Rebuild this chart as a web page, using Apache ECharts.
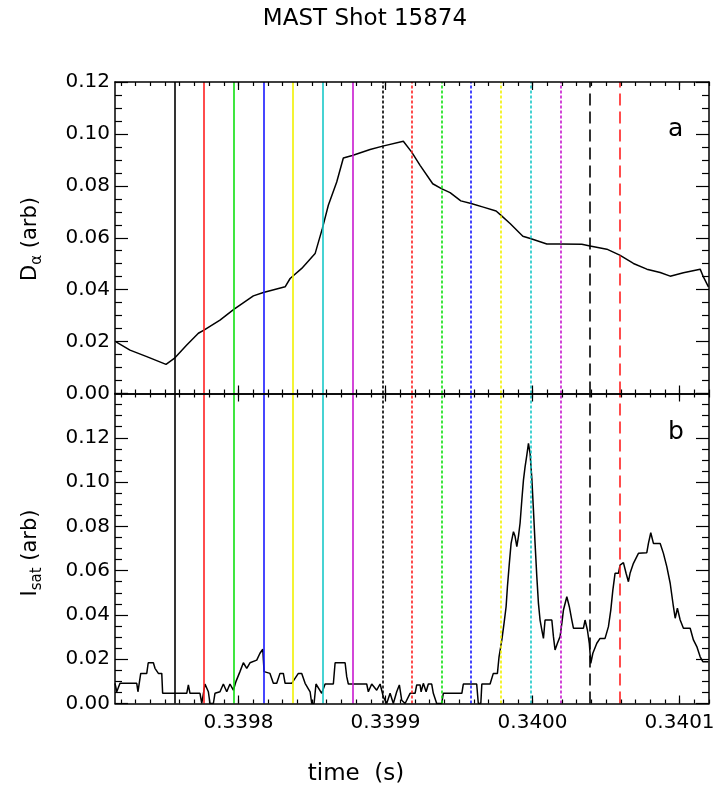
<!DOCTYPE html>
<html><head><meta charset="utf-8">
<script src="https://cdn.jsdelivr.net/npm/echarts@6/dist/echarts.min.js"></script>
<style>html,body{margin:0;padding:0;background:#fff}#c{width:719px;height:795px}</style>
</head><body><div id="c"></div>
<script>
// ---- axis ranges & tick labels ----
const xMin = 0.339716, xMax = 0.340120;
const xMinorStart = 0.33972, xMinorStep = 0.00001;
const xMajorStart = 0.3398, xMajorEnd = 0.3401, xMajorStep = 0.0001;
const dalphaMax = 0.12, isatMax = 0.14, yStep = 0.02;

// ---- panel a : D-alpha ----
const dalphaTime = [0.3397167,0.3397262,0.3397376,0.3397507,0.3397563,0.3397648,0.3397727,0.3397765,0.3397874,0.3397968,
0.3398101,0.3398169,0.3398317,0.3398351,0.3398430,0.3398521,0.3398570,0.3398611,0.3398668,0.3398713,
0.3398774,0.3398895,0.3398981,0.3399121,0.3399133,0.3399178,0.3399235,0.3399321,0.3399380,0.3399439,
0.3399512,0.3399582,0.3399665,0.3399752,0.3399784,0.3399847,0.3399934,0.3399985,0.3400097,0.3400189,
0.3400335,0.3400391,0.3400505,0.3400593,0.3400686,0.3400777,0.3400868,0.3400936,0.3401026,0.3401140,
0.3401162,0.3401196];
const dalphaValue = [0.0199,0.0167,0.0142,0.0112,0.0135,0.0187,0.0232,0.0244,0.0283,0.0324,
0.0376,0.0389,0.0411,0.0443,0.0482,0.0539,0.0635,0.0725,0.0815,0.0907,
0.0917,0.0940,0.0953,0.0972,0.0969,0.0930,0.0879,0.0808,0.0789,0.0774,
0.0742,0.0732,0.0718,0.0703,0.0687,0.0655,0.0606,0.0597,0.0576,0.0576,
0.0575,0.0568,0.0556,0.0533,0.0501,0.0479,0.0466,0.0452,0.0465,0.0479,
0.0449,0.0411];

// ---- panel b : I_sat ----
const isatTime = [0.3397160,0.3397172,0.3397194,0.3397308,0.3397316,0.3397335,0.3397376,0.3397386,0.3397421,0.3397432,
0.3397455,0.3397478,0.3397484,0.3397648,0.3397659,0.3397670,0.3397738,0.3397750,0.3397772,0.3397795,
0.3397806,0.3397829,0.3397840,0.3397874,0.3397897,0.3397920,0.3397942,0.3397965,0.3397983,0.3398010,
0.3398033,0.3398056,0.3398078,0.3398124,0.3398146,0.3398165,0.3398174,0.3398214,0.3398237,0.3398260,
0.3398282,0.3398305,0.3398317,0.3398362,0.3398407,0.3398430,0.3398453,0.3398487,0.3398498,0.3398514,
0.3398527,0.3398566,0.3398589,0.3398645,0.3398657,0.3398725,0.3398736,0.3398747,0.3398872,0.3398883,
0.3398906,0.3398940,0.3398963,0.3398985,0.3399008,0.3399031,0.3399053,0.3399076,0.3399094,0.3399110,
0.3399133,0.3399167,0.3399201,0.3399212,0.3399235,0.3399242,0.3399257,0.3399276,0.3399291,0.3399314,
0.3399325,0.3399348,0.3399382,0.3399393,0.3399519,0.3399529,0.3399620,0.3399631,0.3399648,0.3399655,
0.3399711,0.3399733,0.3399761,0.3399772,0.3399791,0.3399806,0.3399820,0.3399829,0.3399842,0.3399854,
0.3399870,0.3399881,0.3399893,0.3399904,0.3399915,0.3399927,0.3399938,0.3399949,0.3399961,0.3399972,
0.3399983,0.3399995,0.3400006,0.3400017,0.3400029,0.3400040,0.3400051,0.3400063,0.3400074,0.3400085,
0.3400131,0.3400142,0.3400153,0.3400169,0.3400187,0.3400199,0.3400210,0.3400233,0.3400250,0.3400267,
0.3400278,0.3400346,0.3400357,0.3400373,0.3400386,0.3400396,0.3400410,0.3400437,0.3400459,0.3400493,
0.3400516,0.3400532,0.3400546,0.3400561,0.3400584,0.3400595,0.3400618,0.3400636,0.3400652,0.3400663,
0.3400686,0.3400720,0.3400777,0.3400788,0.3400804,0.3400822,0.3400868,0.3400890,0.3400913,0.3400936,
0.3400958,0.3400970,0.3400985,0.3401004,0.3401026,0.3401072,0.3401094,0.3401117,0.3401140,0.3401158,
0.3401196];
const isatValue = [0.0091,0.0053,0.0091,0.0091,0.0053,0.0136,0.0136,0.0184,0.0184,0.0159,
0.0136,0.0136,0.0046,0.0046,0.0084,0.0046,0.0046,0.0001,0.0088,0.0053,
0.0000,0.0000,0.0046,0.0053,0.0088,0.0053,0.0088,0.0060,0.0100,0.0144,
0.0184,0.0159,0.0184,0.0196,0.0227,0.0245,0.0144,0.0136,0.0091,0.0091,
0.0136,0.0136,0.0091,0.0091,0.0136,0.0136,0.0091,0.0053,0.0000,0.0000,
0.0088,0.0046,0.0088,0.0088,0.0184,0.0184,0.0121,0.0088,0.0088,0.0053,
0.0088,0.0060,0.0088,0.0030,0.0000,0.0046,0.0000,0.0053,0.0084,0.0015,
0.0000,0.0046,0.0046,0.0084,0.0084,0.0053,0.0091,0.0053,0.0088,0.0088,
0.0046,0.0000,0.0000,0.0046,0.0046,0.0088,0.0088,0.0000,0.0000,0.0088,
0.0088,0.0136,0.0136,0.0211,0.0287,0.0362,0.0437,0.0527,0.0633,0.0723,
0.0776,0.0755,0.0708,0.0755,0.0814,0.0919,0.1009,0.1069,0.1122,0.1175,
0.1130,0.1017,0.0874,0.0723,0.0572,0.0452,0.0377,0.0332,0.0294,0.0377,
0.0377,0.0302,0.0242,0.0272,0.0302,0.0362,0.0422,0.0482,0.0437,0.0377,
0.0340,0.0340,0.0377,0.0332,0.0272,0.0181,0.0227,0.0272,0.0294,0.0294,
0.0347,0.0422,0.0512,0.0588,0.0588,0.0625,0.0636,0.0588,0.0550,0.0588,
0.0633,0.0678,0.0681,0.0723,0.0771,0.0723,0.0723,0.0678,0.0618,0.0543,
0.0437,0.0385,0.0430,0.0377,0.0340,0.0340,0.0287,0.0257,0.0211,0.0189,
0.0189];

// ---- marker times 0..15 ----
const markerTimes = [0.3397563,0.3397765,0.3397968,0.3398169,0.3398371,0.3398570,0.3398774,0.3398981,
0.3399180,0.3399380,0.3399582,0.3399784,0.3399985,0.3400189,0.3400391,0.3400593];
const markerNames = ['0','1','2','3','4','5','6','7','8','9','10','11','12','13','14','15'];
const markerColors = ['#000000','#ff2020','#10e010','#1818ff','#f2f200','#18c8c8','#c818d0',
'#000000','#ff2020','#10e010','#1818ff','#f2f200','#18c8c8','#c818d0','#000000','#ff2020'];
const markerKinds = ['solid','solid','solid','solid','solid','solid','solid',
'dot','dot','dot','dot','dot','dot','dot','dash','dash'];

const FONT = 'DejaVu Sans';
const PL = 115, PR = 709, PW = PR - PL;
const panels = [{top: 82, height: 311.5}, {top: 393.5, height: 310}];
const pxPerUnit = PW / (xMax - xMin);
// tick-only grids share exactly the scale of the data grids
function subGrid(p, a, b) {
  return {left: PL + (a - xMin) * pxPerUnit, top: p.top, width: (b - a) * pxPerUnit, height: p.height};
}
const grids = [], xAxes = [], yAxes = [];
function hiddenY(g) { yAxes.push({type: 'value', gridIndex: g, show: false, min: 0, max: 1}); }
panels.forEach((p) => {
  const gMain = grids.length; grids.push({left: PL, top: p.top, width: PW, height: p.height});
  const gMinor = grids.length; grids.push(subGrid(p, xMinorStart, xMax));
  const gMajor = grids.length; grids.push(subGrid(p, xMajorStart, xMajorEnd));
  p.g = [gMain, gMinor, gMajor];
});
function frameX(g, pos) {
  return {type: 'value', gridIndex: g, position: pos, min: xMin, max: xMax, z: 10,
    axisLine: {show: true, onZero: false, lineStyle: {color: '#000', width: 1.5}},
    axisTick: {show: false}, axisLabel: {show: false}, splitLine: {show: false}};
}
function tickX(g, pos, mn, mx, step, len, labels) {
  return {type: 'value', gridIndex: g, position: pos, min: mn, max: mx, interval: step, z: 10,
    axisLine: {show: false, onZero: false},
    axisTick: {show: true, inside: true, length: len, lineStyle: {color: '#000', width: 1.2}},
    axisLabel: labels ? {show: true, formatter: v => v.toFixed(4), fontFamily: FONT, fontSize: 20,
      color: '#000', margin: 9} : {show: false},
    splitLine: {show: false}};
}
function yAx(g, pos, max, labels) {
  return {
    type: 'value', gridIndex: g, position: pos, min: 0, max: max, interval: yStep, z: 10,
    axisLine: {show: true, onZero: false, lineStyle: {color: '#000', width: 1.5}},
    axisTick: {show: true, inside: true, length: 13, lineStyle: {color: '#000', width: 1.2}},
    minorTick: {show: true, splitNumber: 4, length: 7, lineStyle: {color: '#000', width: 1.2}},
    axisLabel: labels ? {show: true, formatter: v => (v > max - 1e-9 && max !== dalphaMax) ? '' : v.toFixed(2),
      fontFamily: FONT, fontSize: 20, color: '#000', margin: 5} : {show: false},
    splitLine: {show: false}
  };
}
const axisIdx = [];
panels.forEach((p, pi) => {
  const [gMain, gMinor, gMajor] = p.g; const idx = {};
  idx.xMain = xAxes.length; xAxes.push(frameX(gMain, 'bottom')); xAxes.push(frameX(gMain, 'top'));
  xAxes.push(tickX(gMinor, 'bottom', xMinorStart, xMax, xMinorStep, 4, false));
  xAxes.push(tickX(gMinor, 'top', xMinorStart, xMax, xMinorStep, 4, false));
  xAxes.push(tickX(gMajor, 'bottom', xMajorStart, xMajorEnd, xMajorStep, 8, pi === 1));
  xAxes.push(tickX(gMajor, 'top', xMajorStart, xMajorEnd, xMajorStep, 8, false));
  const max = pi === 0 ? dalphaMax : isatMax;
  idx.yMain = yAxes.length; yAxes.push(yAx(gMain, 'left', max, true));
  yAxes.push(yAx(gMain, 'right', max, false));
  hiddenY(gMinor); hiddenY(gMajor); axisIdx.push(idx);
});

// rotated axis titles with subscripts, built from plain text pieces
function txt(text, x, y, size) {
  return {type: 'text', x: x, y: y, style: {text: text, fill: '#000', fontFamily: FONT, fontSize: size,
    font: size + 'px "' + FONT + '"', align: 'left', verticalAlign: 'middle'}};
}
function axisTitle(cx, cy, main, sub, rest) {
  const wMain = main === 'D' ? 16.2 : 6.2;
  const wSub = sub === 'α' ? 9.9 : 22.9;
  const total = wMain + wSub + 57.9;
  const x0 = -total / 2;
  return {type: 'group', x: cx, y: cy, rotation: Math.PI / 2, silent: true, children: [
    txt(main, x0, 0, 21), txt(sub, x0 + wMain, 6, 15), txt(rest, x0 + wMain + wSub, 0, 21)]};
}

function lineType(k) { return k === 'solid' ? 'solid' : (k === 'dot' ? [3, 2] : [12, 6]); }
function markerLines() {
  return {
    silent: true, symbol: ['none', 'none'], label: {show: false}, animation: false, precision: 9,
    data: markerTimes.map((t, i) => ({xAxis: t, lineStyle: {color: markerColors[i], type: lineType(markerKinds[i]), width: 1.6}}))
  };
}

const option = {
  animation: false,
  title: [
    {text: 'MAST Shot 15874', left: 365, top: 8, textAlign: 'center', padding: 0,
     textStyle: {fontFamily: FONT, fontSize: 23, fontWeight: 'normal', color: '#000'}},
    {text: 'time  (s)', left: 356, top: 763, textAlign: 'center', padding: 0,
     textStyle: {fontFamily: FONT, fontSize: 23, fontWeight: 'normal', color: '#000'}},
    {text: 'a', left: 668, top: 117, padding: 0, textStyle: {fontFamily: FONT, fontSize: 25, fontWeight: 'normal', color: '#000'}},
    {text: 'b', left: 668, top: 420, padding: 0, textStyle: {fontFamily: FONT, fontSize: 25, fontWeight: 'normal', color: '#000'}}
  ],
  graphic: [
    axisTitle(31, 239, 'D', 'α', ' (arb)'),
    axisTitle(31, 553, 'I', 'sat', ' (arb)')
  ],
  grid: grids, xAxis: xAxes, yAxis: yAxes,
  series: [
    {type: 'line', xAxisIndex: axisIdx[0].xMain, yAxisIndex: axisIdx[0].yMain, data: [], z: 1, markLine: markerLines()},
    {type: 'line', xAxisIndex: axisIdx[1].xMain, yAxisIndex: axisIdx[1].yMain, data: [], z: 1, markLine: markerLines()},
    {type: 'line', name: 'Dalpha', xAxisIndex: axisIdx[0].xMain, yAxisIndex: axisIdx[0].yMain, z: 3, showSymbol: false, symbol: 'none',
     lineStyle: {color: '#000', width: 1.5}, data: dalphaTime.map((t, i) => [t, dalphaValue[i]])},
    {type: 'line', name: 'Isat', xAxisIndex: axisIdx[1].xMain, yAxisIndex: axisIdx[1].yMain, z: 3, showSymbol: false, symbol: 'none',
     lineStyle: {color: '#000', width: 1.5}, data: isatTime.map((t, i) => [t, isatValue[i]])},
    {type: 'scatter', xAxisIndex: axisIdx[0].xMain, yAxisIndex: axisIdx[0].yMain, symbolSize: 1, z: 4, silent: true, clip: false,
     itemStyle: {color: 'rgba(0,0,0,0)', opacity: 0},
     label: {show: true, position: 'top', align: 'left', distance: 7, offset: [-8, 0],
       fontFamily: FONT, fontSize: 22, formatter: p => markerNames[p.dataIndex]},
     data: markerTimes.map((t, i) => ({value: [t, dalphaMax], label: {color: markerColors[i]}}))}
  ]
};
const chart = echarts.init(document.getElementById('c'), null, {renderer: 'canvas'});
chart.setOption(option);
</script></body></html>
